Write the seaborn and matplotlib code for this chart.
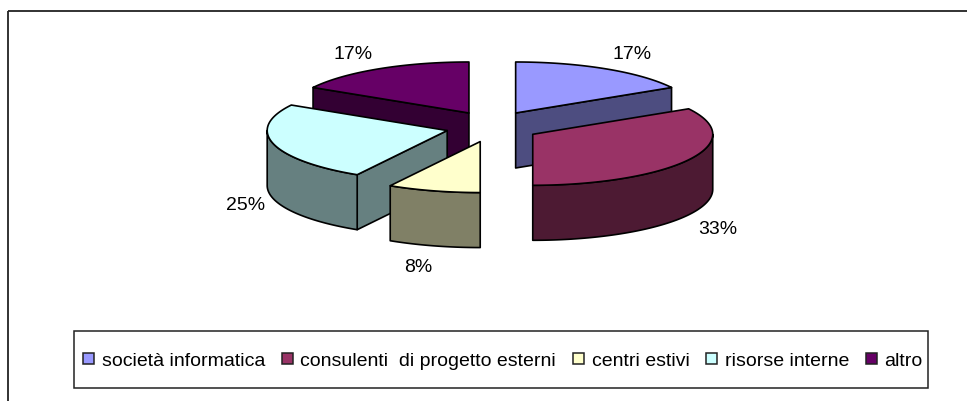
import matplotlib
matplotlib.use("Agg")
import matplotlib.pyplot as plt
import numpy as np
import seaborn as sns
from matplotlib.colors import to_rgb
from matplotlib.patches import Patch, Polygon, Rectangle

# Shares of the budget by supplier, in twelfths
categories = ["società informatica", "consulenti  di progetto esterni",
              "centri estivi", "risorse interne", "altro"]
values = [2, 4, 1, 3, 2]
top_colors = ["#9999FF", "#993366", "#FFFFCC", "#CCFFFF", "#660066"]

# Tilted-pie geometry, in figure pixels
CENTER = (492.3, 126.5)
RX, RY = 180.0, 51.0
DEPTH = 55.0
EXPLODE_X, EXPLODE_Y = 46.7, 15.6
# Percent label offsets from each slice's rim midpoint, in pixels
LABEL_SHIFT = [(26, -14), (29, 15), (-15, 22), (-28, 7), (-26, -14)]
FONT_SIZE = 14.0

sns.set_theme(style="white")
plt.rcParams["font.family"] = ["Liberation Sans", "DejaVu Sans"]
plt.rcParams["text.color"] = "black"

fig = plt.figure(figsize=(9.67, 4.01), dpi=100, facecolor="white")
ax = fig.add_axes([0, 0, 1, 1])
ax.set_xlim(0, 967)
ax.set_ylim(401, 0)
ax.axis("off")

sides = [tuple(0.5 * v for v in to_rgb(c)) for c in top_colors]


def rim(t0, t1, cx, cy):
    t = np.radians(np.linspace(t0, t1, max(2, int(abs(t1 - t0) * 2))))
    return np.column_stack([cx + RX * np.sin(t), cy - RY * np.cos(t)])


shares = np.asarray(values, dtype=float) / sum(values)
edges = np.concatenate([[0.0], np.cumsum(shares) * 360.0])

slices = []
for i, (t0, t1) in enumerate(zip(edges[:-1], edges[1:])):
    mid = np.radians((t0 + t1) / 2)
    cx = CENTER[0] + EXPLODE_X * np.sin(mid)
    cy = CENTER[1] - EXPLODE_Y * np.cos(mid)
    slices.append((cy, i, t0, t1, mid, cx))

line = dict(edgecolor="black", linewidth=1.2, joinstyle="round")
for z, (cy, i, t0, t1, mid, cx) in enumerate(sorted(slices)):
    zo = 2 + z
    # Side walls: radial faces turned to the viewer, then the front of the rim
    for angle, show in ((t0, np.sin(np.radians(t0)) < -1e-9),
                        (t1, np.sin(np.radians(t1)) > 1e-9)):
        if show:
            p = rim(angle, angle, cx, cy)[0]
            wall = [(cx, cy), tuple(p), (p[0], p[1] + DEPTH), (cx, cy + DEPTH)]
            ax.add_patch(Polygon(wall, facecolor=sides[i], zorder=zo, **line))
    lo, hi = max(t0, 90.0), min(t1, 270.0)
    if lo < hi:
        front = rim(lo, hi, cx, cy)
        wall = np.vstack([front, (front + [0, DEPTH])[::-1]])
        ax.add_patch(Polygon(wall, facecolor=sides[i], zorder=zo, **line))
    # Top face
    top = np.vstack([[cx, cy], rim(t0, t1, cx, cy)])
    ax.add_patch(Polygon(top, facecolor=top_colors[i], zorder=zo, **line))
    # Percent label
    mx = cx + RX * np.sin(mid)
    my = cy - RY * np.cos(mid) + (DEPTH if np.cos(mid) < 0 else 0)
    sx, sy = LABEL_SHIFT[i]
    ax.text(mx + sx, my + sy, f"{shares[i] * 100:.0f}%", ha="center", va="center",
            fontsize=FONT_SIZE, zorder=20)

# The chart area shows only its top and left borders
ax.plot([7.5, 967], [11, 11], color="#222222", linewidth=1.3, solid_capstyle="butt")
ax.plot([7.5, 7.5], [11, 401], color="#222222", linewidth=1.3, solid_capstyle="butt")

# Legend box, with the entries spread across its width
ax.add_patch(Rectangle((73.5, 331), 854, 57, facecolor="white",
                       edgecolor="#222222", linewidth=1.1, zorder=1))
handles = [Patch(facecolor=c, edgecolor="#222222", linewidth=1.1) for c in top_colors]
leg = ax.legend(handles, categories, ncol=5, mode="expand", loc="center",
                bbox_to_anchor=(73.5 / 967, 11.5 / 401, 859 / 967, 57 / 401),
                bbox_transform=fig.transFigure,
                fontsize=FONT_SIZE, frameon=False, borderaxespad=0, borderpad=0.5,
                handlelength=0.55, handleheight=0.55, handletextpad=0.4)

fig.savefig("out.png", dpi=100, facecolor="white")
